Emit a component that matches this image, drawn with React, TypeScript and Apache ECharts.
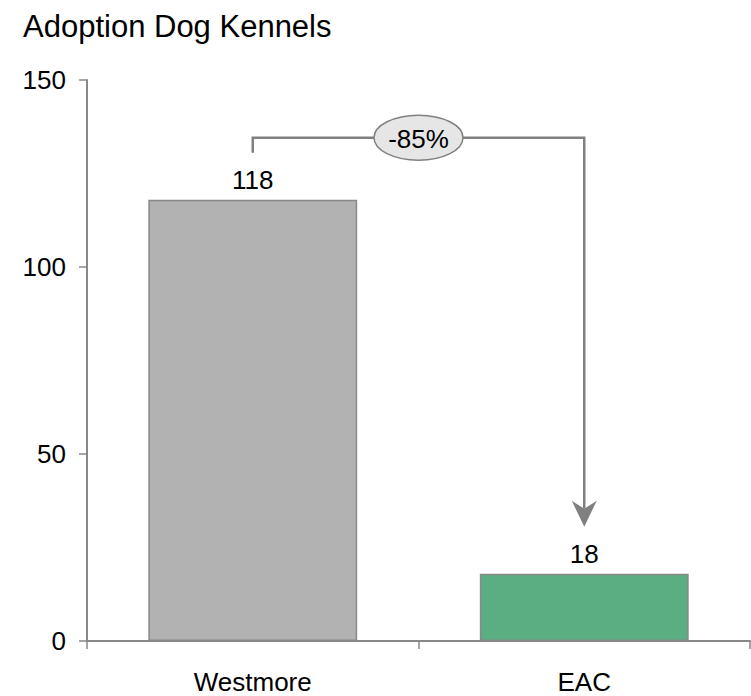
import React, { useEffect, useRef } from "react";
import * as echarts from "echarts";

const title = "Adoption Dog Kennels";
const categories = ["Westmore", "EAC"];
const values = [118, 18];
const barColors = ["#b2b2b2", "#5aae82"];
const yTicks = [0, 50, 100, 150];
const changeLabel = "-85%";

const FONT = "'Liberation Sans', Arial, sans-serif";
const FS = 26;

export default function App() {
  const ref = useRef<HTMLDivElement>(null);
  useEffect(() => {
    if (!ref.current) return;
    const chart = echarts.init(ref.current, undefined, { renderer: "svg" });
    const option: any = {
      animation: false,
      title: {
        text: title,
        left: 18,
        top: 6,
        textStyle: { fontFamily: FONT, fontSize: 31, fontWeight: "normal", color: "#000" },
      },
      grid: { left: 87, right: 1, top: 80, bottom: 55, containLabel: false },
      xAxis: {
        type: "category",
        data: categories,
        axisLine: { lineStyle: { color: "#888", width: 2 } },
        axisTick: { show: true, length: 8, lineStyle: { color: "#888", width: 1.5 }, alignWithLabel: false },
        axisLabel: { fontFamily: FONT, fontSize: FS, color: "#000", margin: 28 },
      },
      yAxis: {
        type: "value",
        min: yTicks[0],
        max: yTicks[yTicks.length - 1],
        interval: 50,
        splitLine: { show: false },
        axisLine: { show: true, lineStyle: { color: "#888", width: 2 } },
        axisTick: { show: true, length: 8, lineStyle: { color: "#888", width: 1.5 } },
        axisLabel: { fontFamily: FONT, fontSize: FS, color: "#000", margin: 21 },
      },
      series: [
        {
          type: "bar",
          barWidth: "63%",
          data: values.map((v, i) => ({
            value: v,
            itemStyle: { color: barColors[i], borderColor: "#888", borderWidth: 1.5 },
          })),
          label: {
            show: true,
            position: "top",
            distance: 7,
            fontFamily: FONT,
            fontSize: FS,
            color: "#000",
          },
        },
      ],
    };
    chart.setOption(option);

    const p0 = chart.convertToPixel({ seriesIndex: 0 }, [0, values[0]]) as number[];
    const p1 = chart.convertToPixel({ seriesIndex: 0 }, [1, values[1]]) as number[];
    const gap = 47;
    const startY = p0[1] - gap;
    const lineY = startY - 15;
    const tipY = p1[1] - gap;
    const midX = (p0[0] + p1[0]) / 2;
    const stroke = "#808080";

    chart.setOption({
      graphic: [
        {
          type: "polyline",
          shape: {
            points: [
              [p0[0], startY],
              [p0[0], lineY],
              [p1[0], lineY],
              [p1[0], tipY - 18],
            ],
          },
          style: { stroke, lineWidth: 2.5, fill: null },
          z: 10,
        },
        {
          type: "polygon",
          shape: {
            points: [
              [p1[0], tipY],
              [p1[0] - 12.5, tipY - 26],
              [p1[0], tipY - 18],
              [p1[0] + 12.5, tipY - 26],
            ],
          },
          style: { fill: stroke, stroke: null },
          z: 11,
        },
        {
          type: "ellipse",
          shape: { cx: midX, cy: lineY, rx: 44.5, ry: 22.5 },
          style: { fill: "#e6e6e6", stroke, lineWidth: 1.5 },
          z: 12,
        },
        {
          type: "text",
          x: midX,
          y: lineY + 1,
          style: {
            text: changeLabel,
            fontFamily: FONT,
            fontSize: FS,
            fill: "#000",
            align: "center",
            verticalAlign: "middle",
          },
          z: 13,
        },
      ],
    });

    return () => chart.dispose();
  }, []);
  return (
    <div
      ref={ref}
      style={{ position: "fixed", left: 0, top: 0, width: 751, height: 696, background: "#fff" }}
    />
  );
}
